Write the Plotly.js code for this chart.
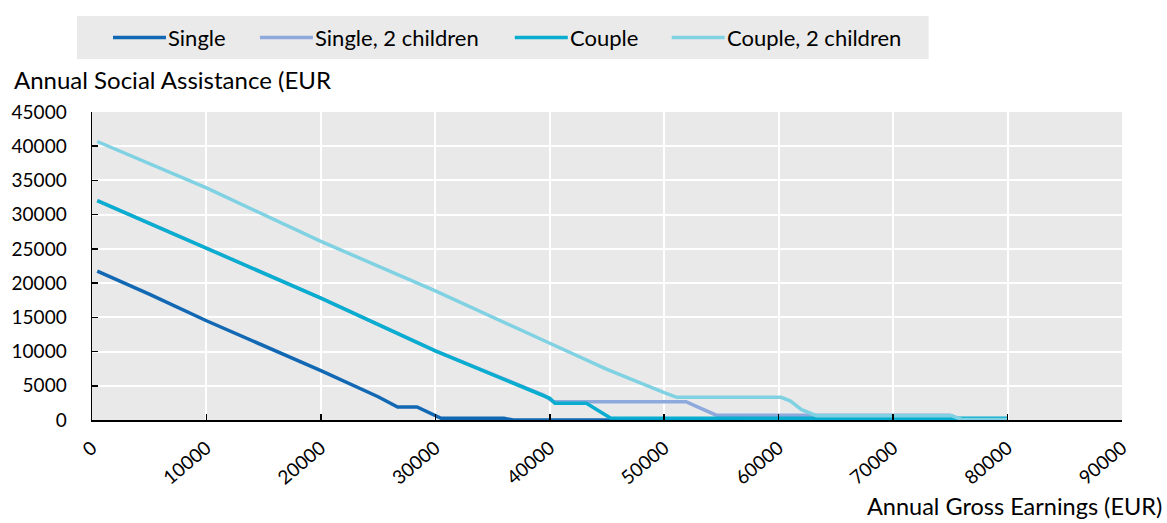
<!DOCTYPE html>
<html>
<head>
<meta charset="utf-8">
<script src="https://cdn.plot.ly/plotly-3.0.1.min.js"></script>
<style>
html,body{margin:0;padding:0;background:#fff;}
#chart{width:1167px;height:523px;}
</style>
</head>
<body>
<div id="chart"></div>
<script>
// ---- data ----
var seriesNames = ["Single", "Single, 2 children", "Couple", "Couple, 2 children"];
var seriesColors = ["#1268B3", "#8EA9DB", "#08ADCF", "#80D2E3"];

var singleX = [460, 5000, 10000, 15000, 20000, 25000, 26700, 28400, 29500, 30500, 36000, 36800, 80000];
var singleY = [21740, 18400, 14500, 10900, 7200, 3400, 1900, 1900, 1100, 250, 250, 0, 0];

var single2X = [460, 10000, 20000, 30000, 39500, 40300, 51900, 53200, 54550, 75000, 76000, 80000];
var single2Y = [32060, 25150, 17800, 10090, 3600, 2680, 2680, 1700, 700, 680, 0, 0];

var coupleX = [460, 10000, 20000, 30000, 39500, 40000, 40450, 43200, 44300, 45300, 80000];
var coupleY = [32060, 25150, 17800, 10090, 3600, 3170, 2440, 2440, 1300, 280, 250];

var couple2X = [460, 10000, 20000, 30000, 40000, 45000, 50000, 51100, 60200, 61000, 62000, 63300, 75100, 76000, 80000];
var couple2Y = [40690, 33900, 26100, 18860, 11210, 7400, 4000, 3320, 3320, 2800, 1500, 630, 630, 80, 80];

var xTicks = [0, 10000, 20000, 30000, 40000, 50000, 60000, 70000, 80000, 90000];
var yTicks = [0, 5000, 10000, 15000, 20000, 25000, 30000, 35000, 40000, 45000];

var yTitle = "Annual Social Assistance (EUR";
var xTitle = "Annual Gross Earnings (EUR)";

// ---- chart ----
var FONT = "Lato, 'Open Sans', sans-serif";
var xs = [singleX, single2X, coupleX, couple2X];
var ys = [singleY, single2Y, coupleY, couple2Y];

var traces = xs.map(function (x, i) {
  return {
    type: "scatter", mode: "lines", name: seriesNames[i],
    x: x, y: ys[i],
    line: {color: seriesColors[i], width: 3.5, shape: "linear"},
    showlegend: false, hoverinfo: "x+y+name"
  };
});

var W = 1167, H = 523;
var L = 92, R = 44.5, T = 112, B = 103;
var pw = W - L - R, ph = H - T - B;
function px2x(p) { return (p - L) / pw; }
function px2y(p) { return (H - B - p) / ph; }

// manual legend (box, line samples, labels)
var legendLineStart = [113, 260, 515, 672];
var shapes = [{
  type: "rect", xref: "paper", yref: "paper",
  x0: px2x(77), x1: px2x(929), y0: px2y(59), y1: px2y(16),
  fillcolor: "#EAEAEA", line: {width: 0}, layer: "below"
}];
var annotations = [];
seriesNames.forEach(function (n, i) {
  shapes.push({
    type: "line", xref: "paper", yref: "paper",
    x0: px2x(legendLineStart[i]), x1: px2x(legendLineStart[i] + 53),
    y0: px2y(37.5), y1: px2y(37.5),
    line: {color: seriesColors[i], width: 3.5}
  });
  annotations.push({
    xref: "paper", yref: "paper", x: px2x(legendLineStart[i] + 53), y: px2y(37),
    xanchor: "left", yanchor: "middle", showarrow: false, text: n,
    font: {family: FONT, size: 22, color: "#000"}
  });
});
annotations.push({
  xref: "paper", yref: "paper", x: px2x(12), y: px2y(80),
  xanchor: "left", yanchor: "middle", showarrow: false, text: yTitle,
  font: {family: FONT, size: 24, color: "#000"}
});
annotations.push({
  xref: "paper", yref: "paper", x: px2x(1165), y: px2y(506),
  xanchor: "right", yanchor: "middle", showarrow: false, text: xTitle,
  font: {family: FONT, size: 23.5, color: "#000"}
});

var layout = {
  width: W, height: H,
  margin: {l: L, r: R, t: T, b: B, pad: 0},
  paper_bgcolor: "#FFFFFF",
  plot_bgcolor: "#E9E9E9",
  font: {family: FONT, size: 19, color: "#000"},
  showlegend: false,
  xaxis: {
    range: [0, 90000], tickmode: "array", tickvals: xTicks,
    ticktext: xTicks.map(String), tickangle: -40,
    showgrid: true, gridcolor: "#FFFFFF", gridwidth: 2,
    zeroline: false, showline: true, linecolor: "#000", linewidth: 1.5,
    ticks: "inside", ticklen: 6, tickwidth: 1.5, tickcolor: "#000",
    ticklabelstandoff: 8,
    tickfont: {family: FONT, size: 19, color: "#000"}, fixedrange: true
  },
  yaxis: {
    range: [0, 45000], tickmode: "array", tickvals: yTicks,
    ticktext: yTicks.map(String),
    showgrid: true, gridcolor: "#FFFFFF", gridwidth: 2,
    zeroline: false, showline: true, linecolor: "#000", linewidth: 1.5,
    ticks: "inside", ticklen: 6, tickwidth: 1.5, tickcolor: "#000",
    ticklabelstandoff: 20,
    tickfont: {family: FONT, size: 19, color: "#000"}, fixedrange: true
  },
  shapes: shapes,
  annotations: annotations
};

Plotly.newPlot("chart", traces, layout, {displayModeBar: false, staticPlot: true});
</script>
</body>
</html>
